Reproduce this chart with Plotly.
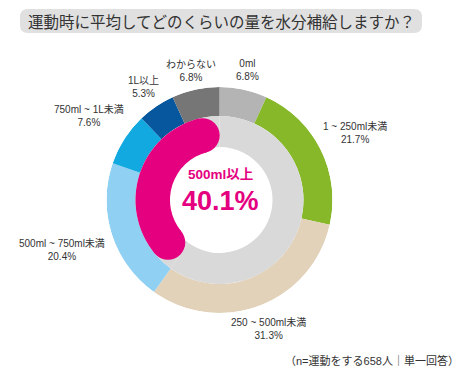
import math
import plotly.graph_objects as go

# ---------------- data ----------------
categories = ["0ml", "1 ~ 250ml未満", "250 ~ 500ml未満", "500ml ~ 750ml未満",
              "750ml ~ 1L未満", "1L以上", "わからない"]
shares = [6.8, 21.7, 31.3, 20.4, 7.6, 5.3, 6.8]
highlight_label = "500ml以上"
highlight_share = 40.1
title_text = "運動時に平均してどのくらいの量を水分補給しますか？"
note_text = "（n=運動をする658人｜単一回答）"

# ---------------- styling ----------------
colors = ["#b4b4b4", "#86b82a", "#e3d2ba", "#8fd0f3", "#12a8e0", "#07579f", "#767676"]
PINK = "#e4007f"
RING_GRAY = "#d9d9d9"
TEXT = "#333333"
FONT = "Liberation Sans, Noto Sans CJK JP, sans-serif"

OFF = 8  # page body margin
W, H = 470 - OFF, 372 - OFF
CX, CY = 219.5, 200.0
R_OUT, R_MID, R_IN = 113.0, 84.0, 53.0
P_IN, P_OUT = 49.5, 84.0
label_dist = [132.6, 151.8, 138.6, 165.6, 155.0, 136.5, 132.5]


def paper(x, y):
    return (x - OFF) / W, 1 - (y - OFF) / H


total = sum(shares)
spans = [s / total * 360 for s in shares]
mids, acc = [], 0.0
for sp in spans:
    mids.append(acc + sp / 2)
    acc += sp

fig = go.Figure()

# outer ring: one annular bar per answer
fig.add_trace(go.Barpolar(
    r=[R_OUT - R_MID] * len(shares), base=[R_MID] * len(shares),
    theta=mids, width=spans, marker=dict(color=colors, line=dict(width=0)),
    hoverinfo="skip", showlegend=False,
))

# inner gray ring (highlighted part + the rest)
hl_span = highlight_share / 100 * 360
rest_span = 360 - hl_span
fig.add_trace(go.Barpolar(
    r=[R_MID - R_IN] * 2, base=[R_IN] * 2,
    theta=[360 - hl_span / 2, rest_span / 2], width=[hl_span, rest_span],
    marker=dict(color=RING_GRAY, line=dict(width=0)),
    hoverinfo="skip", showlegend=False,
))

# pink highlight arc with rounded ends, counter-clockwise from the top
p_mid = (P_IN + P_OUT) / 2
p_half = (P_OUT - P_IN) / 2
cap_deg = math.degrees(p_half / p_mid)
body_span = hl_span - 2 * cap_deg
fig.add_trace(go.Barpolar(
    r=[P_OUT - P_IN], base=[P_IN],
    theta=[360 - hl_span / 2], width=[body_span],
    marker=dict(color=PINK, line=dict(width=0)),
    hoverinfo="skip", showlegend=False,
))
fig.add_trace(go.Scatterpolar(
    r=[p_mid, p_mid], theta=[360 - cap_deg, 360 - hl_span + cap_deg],
    mode="markers", marker=dict(size=2 * p_half, color=PINK, line=dict(width=0)),
    hoverinfo="skip", showlegend=False,
))

annotations = []
for cat, sh, m, d in zip(categories, shares, mids, label_dist):
    a = math.radians(m)
    x = CX + d * math.sin(a)
    y = CY - d * math.cos(a)
    px, py = paper(x, y)
    annotations.append(dict(
        x=px, y=py, xref="paper", yref="paper", xanchor="center", yanchor="middle",
        text=f"{cat}<br>{sh}%", showarrow=False, align="center",
        font=dict(family=FONT, size=10, color=TEXT),
    ))

px, py = paper(CX + 1, 175)
annotations.append(dict(x=px, y=py, xref="paper", yref="paper", showarrow=False,
                        text=f"<b>{highlight_label}</b>", xanchor="center", yanchor="middle",
                        font=dict(family=FONT, size=13.5, color=PINK)))
px, py = paper(CX + 1, 201)
annotations.append(dict(x=px, y=py, xref="paper", yref="paper", showarrow=False,
                        text=f"<b>{highlight_share}%</b>", xanchor="center", yanchor="middle",
                        font=dict(family=FONT, size=27, color=PINK)))

px, py = paper(221, 21)
annotations.append(dict(x=px, y=py, xref="paper", yref="paper", showarrow=False,
                        text=title_text, xanchor="center", yanchor="middle",
                        font=dict(family="Noto Sans CJK JP, sans-serif", size=15.5, color=TEXT)))
px, py = paper(461, 360)
annotations.append(dict(x=px, y=py, xref="paper", yref="paper", showarrow=False,
                        text=note_text, xanchor="right", yanchor="middle",
                        font=dict(family=FONT, size=11, color=TEXT)))

# rounded title box
bx0, by0, bx1, by1, rr = 20, 9, 422, 33, 8
pts = lambda x, y: "%.5f,%.5f" % paper(x, y)
path = (f"M {pts(bx0 + rr, by0)} L {pts(bx1 - rr, by0)} Q {pts(bx1, by0)} {pts(bx1, by0 + rr)} "
        f"L {pts(bx1, by1 - rr)} Q {pts(bx1, by1)} {pts(bx1 - rr, by1)} "
        f"L {pts(bx0 + rr, by1)} Q {pts(bx0, by1)} {pts(bx0, by1 - rr)} "
        f"L {pts(bx0, by0 + rr)} Q {pts(bx0, by0)} {pts(bx0 + rr, by0)} Z")
shapes = [dict(type="path", xref="paper", yref="paper", path=path,
               fillcolor="#e0e0e0", line=dict(width=0), layer="below")]

fig.update_layout(
    width=W, height=H, margin=dict(l=0, r=0, t=0, b=0),
    paper_bgcolor="white", plot_bgcolor="white",
    polar=dict(
        domain=dict(x=[(CX - R_OUT - OFF) / W, (CX + R_OUT - OFF) / W],
                    y=[1 - (CY + R_OUT - OFF) / H, 1 - (CY - R_OUT - OFF) / H]),
        bgcolor="rgba(0,0,0,0)", barmode="overlay", hole=0,
        radialaxis=dict(range=[0, R_OUT], visible=False, showgrid=False),
        angularaxis=dict(rotation=90, direction="clockwise", visible=False,
                         showgrid=False, showline=False, ticks=""),
    ),
    annotations=annotations, shapes=shapes, showlegend=False,
)

fig.write_html("out.html")
